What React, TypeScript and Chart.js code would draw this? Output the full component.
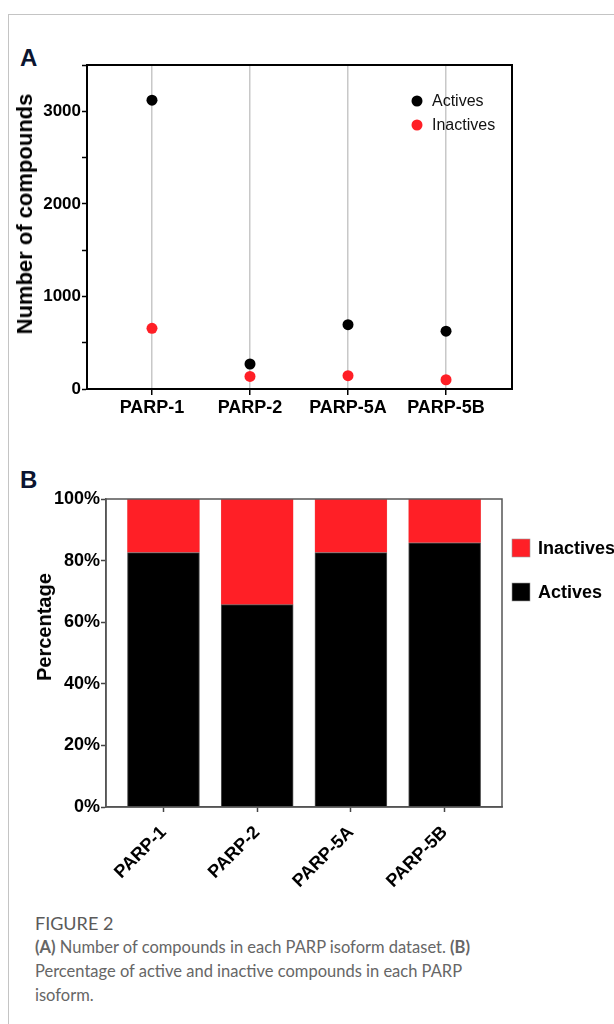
import React, { useEffect, useRef } from "react";
import { Chart, registerables } from "chart.js";

Chart.register(...registerables);

const FONT = '"Liberation Sans", Arial, Helvetica, sans-serif';

// ---- data ----
const isoforms = ["PARP-1", "PARP-2", "PARP-5A", "PARP-5B"];
const activeCounts = [3120, 270, 695, 625];
const inactiveCounts = [655, 136, 144, 100];
const activePct = [82.6, 65.7, 82.6, 85.8];
const inactivePct = [17.4, 34.3, 17.4, 14.2];
const countMax = 3500;
const countStep = 500;
const countLabelStep = 1000;
const pctMax = 100;
const pctStep = 20;

const RED = "#ff1f26";
const BLACK = "#000000";

const frame = (color: string, width: number) => ({
  id: "frame",
  afterDraw(chart: any) {
    const { ctx, chartArea } = chart;
    ctx.save();
    ctx.strokeStyle = color;
    ctx.lineWidth = width;
    ctx.strokeRect(chartArea.left, chartArea.top, chartArea.right - chartArea.left, chartArea.bottom - chartArea.top);
    ctx.restore();
  },
});

const legendA = {
  id: "legendA",
  afterDraw(chart: any) {
    const { ctx, chartArea } = chart;
    ctx.save();
    chart.data.datasets.forEach((ds: any, i: number) => {
      const x = chartArea.right - 95;
      const y = chartArea.top + 36 + i * 24;
      ctx.beginPath();
      ctx.arc(x, y, 5.5, 0, Math.PI * 2);
      ctx.fillStyle = ds.backgroundColor;
      ctx.fill();
      ctx.fillStyle = "#111";
      ctx.font = `16px ${FONT}`;
      ctx.textAlign = "left";
      ctx.textBaseline = "middle";
      ctx.fillText(ds.label, x + 15, y + 1);
    });
    ctx.restore();
  },
};

const legendB = {
  id: "legendB",
  afterDraw(chart: any) {
    const { ctx, chartArea } = chart;
    ctx.save();
    const order = [...chart.data.datasets].reverse();
    order.forEach((ds: any, i: number) => {
      const x = chartArea.right + 10;
      const yc = chartArea.top + 49 + i * 44;
      ctx.fillStyle = ds.backgroundColor;
      ctx.fillRect(x, yc - 9, 18, 18);
      ctx.strokeStyle = "#999";
      ctx.lineWidth = 0.6;
      ctx.strokeRect(x, yc - 9, 18, 18);
      ctx.fillStyle = "#000";
      ctx.font = `bold 18px ${FONT}`;
      ctx.textAlign = "left";
      ctx.textBaseline = "middle";
      ctx.fillText(ds.label, x + 26, yc + 1);
    });
    ctx.restore();
  },
};

const catTicks = (scale: any) => {
  scale.ticks = isoforms.map((_, i) => ({ value: i }));
};

export default function App() {
  const refA = useRef<HTMLCanvasElement>(null);
  const refB = useRef<HTMLCanvasElement>(null);

  useEffect(() => {
    Chart.defaults.font.family = FONT;
    const a = new Chart(refA.current!, {
      type: "scatter",
      data: {
        datasets: [
          {
            label: "Actives",
            data: activeCounts.map((v, i) => ({ x: i, y: v })),
            backgroundColor: BLACK,
            borderWidth: 0,
            pointRadius: 5.5,
          },
          {
            label: "Inactives",
            data: inactiveCounts.map((v, i) => ({ x: i, y: v })),
            backgroundColor: RED,
            borderWidth: 0,
            pointRadius: 5.5,
          },
        ],
      },
      options: {
        animation: false,
        responsive: false,
        layout: { padding: { top: 25, right: 48, left: 0, bottom: 0 } },
        plugins: { legend: { display: false }, tooltip: { enabled: false } },
        scales: {
          x: {
            type: "linear",
            min: -0.663,
            max: 3.673,
            afterBuildTicks: catTicks,
            afterFit: (s: any) => { s.height = 31; },
            ticks: {
              callback: (v: any) => isoforms[v] ?? "",
              font: { size: 18, weight: "bold" },
              color: "#000",
              padding: 2,
              maxRotation: 0,
              autoSkip: false,
            },
            grid: { color: "#c8c8c8", lineWidth: 1.5, tickColor: "#000", tickLength: 6, tickWidth: 1.5 },
            border: { color: "#000", width: 2 },
          },
          y: {
            min: 0,
            max: countMax,
            afterFit: (s: any) => { s.width = 87; },
            ticks: {
              stepSize: countStep,
              callback: (v: any) => (v % countLabelStep === 0 ? String(v) : ""),
              font: { size: 17, weight: "bold" },
              color: "#000",
              padding: 1,
            },
            grid: { drawOnChartArea: false, tickColor: "#000", tickLength: 5, tickWidth: 1.5 },
            border: { color: "#000", width: 2 },
          },
        },
      },
      plugins: [frame("#000", 2), legendA],
    } as any);

    const b = new Chart(refB.current!, {
      type: "bar",
      data: {
        datasets: [
          {
            label: "Actives",
            data: activePct.map((v, i) => ({ x: i, y: v })),
            backgroundColor: BLACK,
            borderColor: "#555",
            borderWidth: 1,
            barThickness: 72,
          },
          {
            label: "Inactives",
            data: inactivePct.map((v, i) => ({ x: i, y: v })),
            backgroundColor: RED,
            borderColor: "#e55",
            borderWidth: 0.5,
            barThickness: 72,
          },
        ],
      },
      options: {
        animation: false,
        responsive: false,
        layout: { padding: { top: 29, right: 112, left: 0, bottom: 0 } },
        plugins: { legend: { display: false }, tooltip: { enabled: false } },
        scales: {
          x: {
            type: "linear",
            stacked: true,
            offset: false,
            min: -0.613,
            max: 3.612,
            afterBuildTicks: catTicks,
            afterFit: (s: any) => { s.height = 83; },
            ticks: {
              callback: (v: any) => isoforms[v] ?? "",
              font: { size: 18, weight: "bold" },
              color: "#000",
              minRotation: 45,
              maxRotation: 45,
              padding: 10,
              autoSkip: false,
            },
            grid: { offset: false, drawOnChartArea: false, tickColor: "#444", tickLength: 5, tickWidth: 1.5 },
            border: { color: "#555", width: 1.5 },
          },
          y: {
            stacked: true,
            min: 0,
            max: pctMax,
            afterFit: (s: any) => { s.width = 106; },
            ticks: {
              stepSize: pctStep,
              callback: (v: any) => `${v}%`,
              font: { size: 18, weight: "bold" },
              color: "#000",
              padding: 1,
            },
            grid: { drawOnChartArea: false, tickColor: "#444", tickLength: 5, tickWidth: 1.5 },
            border: { color: "#555", width: 1.5 },
          },
        },
      },
      plugins: [frame("#555", 1.5), legendB],
    } as any);

    return () => {
      a.destroy();
      b.destroy();
    };
  }, []);

  const panel: React.CSSProperties = {
    position: "absolute",
    fontFamily: FONT,
    fontWeight: "bold",
    fontSize: 24,
    lineHeight: "24px",
    color: "#0b1530",
  };
  const vtitle = (cx: number, cy: number, size: number): React.CSSProperties => ({
    position: "absolute",
    left: cx,
    top: cy,
    transform: "translate(-50%, -50%) rotate(-90deg)",
    whiteSpace: "nowrap",
    fontFamily: FONT,
    fontWeight: "bold",
    fontSize: size,
    lineHeight: 1,
    color: "#000",
  });
  const cap: React.CSSProperties = {
    position: "absolute",
    left: 35,
    fontFamily: 'Lato, "Open Sans", sans-serif',
    color: "#666",
    whiteSpace: "nowrap",
    fontSize: 16.5,
    lineHeight: "24px",
  };

  return (
    <div style={{ position: "absolute", left: 0, top: 0, width: 614, height: 1024, overflow: "hidden", background: "#fff" }}>
      <div style={{ position: "absolute", left: 8, top: 14, width: 800, height: 1100, borderTop: "1px solid #c4c4c4", borderLeft: "1px solid #c4c4c4" }} />
      <div style={{ ...panel, left: 20, top: 46 }}>A</div>
      <div style={{ ...panel, left: 20, top: 468 }}>B</div>
      <canvas ref={refA} width={560} height={380} style={{ position: "absolute", left: 0, top: 40 }} />
      <canvas ref={refB} width={614} height={420} style={{ position: "absolute", left: 0, top: 470 }} />
      <div style={vtitle(25, 213.5, 22)}>Number of compounds</div>
      <div style={vtitle(44, 627, 20)}>Percentage</div>
      <div style={{ ...cap, top: 910.5, fontSize: 18, color: "#5a5a5a" }}>FIGURE 2</div>
      <div style={{ ...cap, top: 935 }}>
        <b>(A)</b> Number of compounds in each PARP isoform dataset. <b>(B)</b>
      </div>
      <div style={{ ...cap, top: 959 }}>Percentage of active and inactive compounds in each PARP</div>
      <div style={{ ...cap, top: 983 }}>isoform.</div>
    </div>
  );
}
